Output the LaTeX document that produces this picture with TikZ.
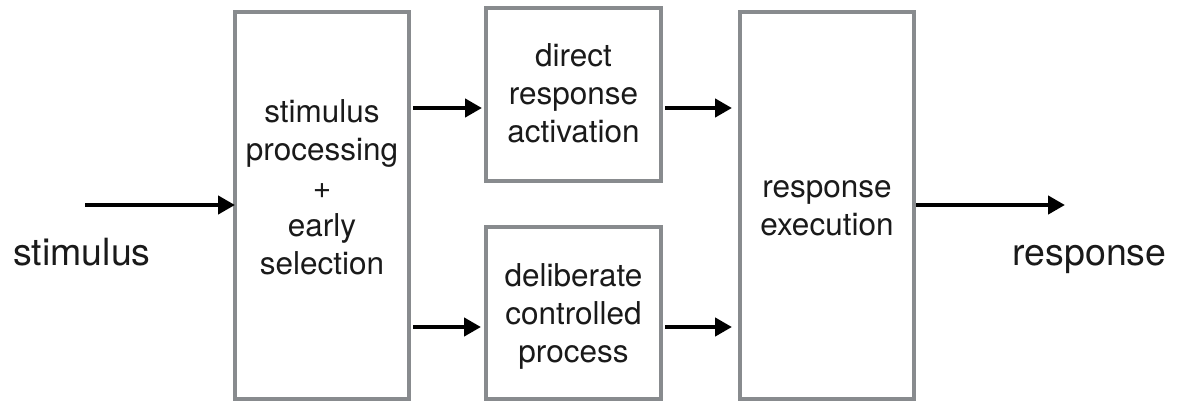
\documentclass[tikz,border=0pt]{standalone}
\usepackage{fontspec}
\setmainfont{TeX Gyre Heros}
\usetikzlibrary{arrows.meta}
\definecolor{boxgray}{HTML}{888B8E}
\definecolor{txt}{HTML}{1A1A1A}
\tikzset{
  blockbox/.style={draw=boxgray, line width=4.5pt, rectangle, inner sep=0pt, outer sep=0pt},
  boxtext/.style={align=center, inner sep=0pt, text=txt, font=\fontsize{31.5}{38}\selectfont},
  sidetext/.style={inner sep=0pt, anchor=base, text=txt, font=\fontsize{37.5}{44}\selectfont},
  arr/.style={line width=4.5pt, -{Triangle[length=17pt,width=18pt]}, black}
}
\begin{document}
\begin{tikzpicture}[x=1pt,y=-1pt]
\useasboundingbox (0,0) rectangle (1184,402);
% boxes
\node[blockbox, minimum width=174pt, minimum height=387pt] (b1) at (322,205.5) {};
\node[blockbox, minimum width=175pt, minimum height=173pt] (b2) at (573.5,94.5) {};
\node[blockbox, minimum width=175pt, minimum height=172pt] (b3) at (573.5,313) {};
\node[blockbox, minimum width=174pt, minimum height=387pt] (b4) at (827,205.5) {};
% texts
\node[boxtext] (t1) at (322,187.2) {stimulus\\processing\\+\\early\\selection};
\node[boxtext] (t2) at (573.5,93.2) {direct\\response\\activation};
\node[boxtext] (t3) at (573.5,316.6) {deliberate\\controlled\\process};
\node[boxtext] (t4) at (827,208.2) {response\\execution};
\node[sidetext] (stim) at (82,265) {stimulus};
\node[sidetext] (resp) at (1089.5,265) {response};
% connector ends
\coordinate (sin) at (85,205);
\coordinate (sout) at (1065,205);
\coordinate (rowa) at (0,108);
\coordinate (rowb) at (0,327);
% arrows
\draw[arr] (sin) -- (b1.west |- sin);
\draw[arr, shorten <=4pt, shorten >=4pt] (b1.east |- rowa) -- (b2.west |- rowa);
\draw[arr, shorten <=4pt, shorten >=5pt] (b1.east |- rowb) -- (b3.west |- rowb);
\draw[arr, shorten <=4pt, shorten >=8pt] (b2.east |- rowa) -- (b4.west |- rowa);
\draw[arr, shorten <=4pt, shorten >=8pt] (b3.east |- rowb) -- (b4.west |- rowb);
\draw[arr, shorten <=2pt] (b4.east |- sout) -- (sout);
\end{tikzpicture}
\end{document}
